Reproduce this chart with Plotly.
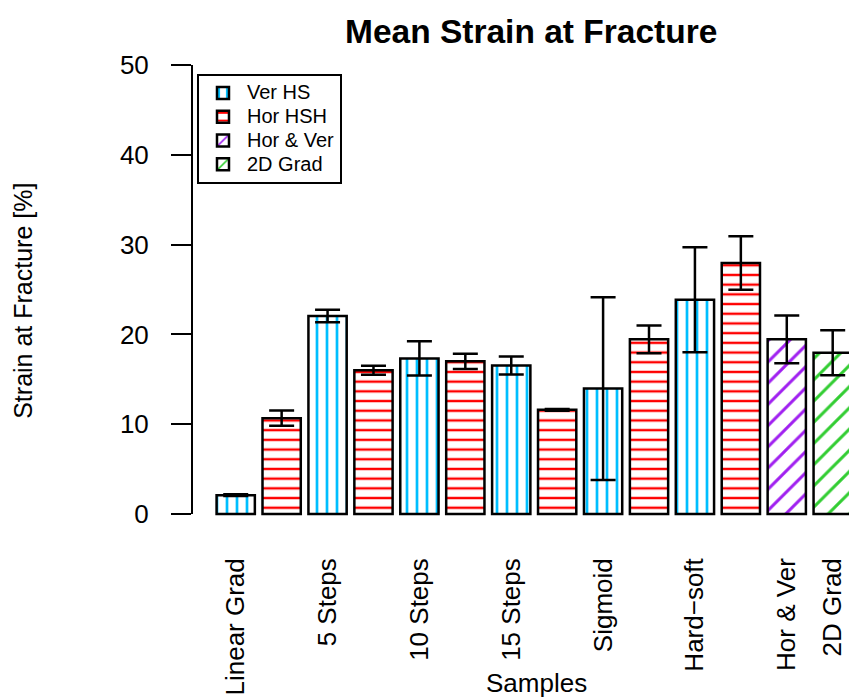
import plotly.graph_objects as go

# Paired samples: each has a vertical (Ver HS) and a horizontal (Hor HSH) bar
samples = ["Linear Grad", "5 Steps", "10 Steps", "15 Steps", "Sigmoid", "Hard\u2212soft"]
ver_mean = [2.1, 22.05, 17.33, 16.55, 13.97, 23.86]
ver_sd = [0.1, 0.7, 1.9, 1.0, 10.17, 5.85]
hor_mean = [10.67, 16.0, 17.0, 11.6, 19.45, 27.95]
hor_sd = [0.85, 0.5, 0.86, 0.1, 1.54, 2.97]

# Single-bar samples
hv_name = "Hor & Ver"
hv_mean = [19.45]
hv_sd = [2.65]
g2d_name = "2D Grad"
g2d_mean = [17.95]
g2d_sd = [2.5]

legend_names = ["Ver HS", "Hor HSH", "Hor & Ver", "2D Grad"]
y_ticks = [0, 10, 20, 30, 40, 50]

FONT = "Liberation Sans, Arial, Helvetica, sans-serif"
BAR_W = 1 / 1.2

n_pairs = len(samples)
ver_x = [2 * i for i in range(n_pairs)]
hor_x = [2 * i + 1 for i in range(n_pairs)]
hv_x = [2 * n_pairs]
g2d_x = [2 * n_pairs + 1]

tick_pos = ver_x + hv_x + g2d_x
tick_txt = samples + [hv_name, g2d_name]


def legend_label(text):
    # larger glyphs while keeping the compact legend row spacing
    return '<span style="font-size:20px">' + text + "</span>"


def bar_trace(name, xs, ys, sds, shape, color, size, solidity):
    return go.Bar(
        name=legend_label(name),
        x=xs,
        y=ys,
        width=[BAR_W] * len(xs),
        marker=dict(
            color="white",
            line=dict(color="black", width=2.5),
            pattern=dict(shape=shape, fgcolor=color, bgcolor="white",
                         size=size, solidity=solidity, fillmode="replace"),
        ),
        error_y=dict(type="data", array=sds, symmetric=True,
                     color="black", thickness=2.5, width=12.5),
    )


fig = go.Figure()
fig.add_trace(bar_trace(legend_names[0], ver_x, ver_mean, ver_sd, "|", "#00BFFF", 10, 0.27))
fig.add_trace(bar_trace(legend_names[1], hor_x, hor_mean, hor_sd, "-", "#FF0000", 9.7, 0.25))
fig.add_trace(bar_trace(legend_names[2], hv_x, hv_mean, hv_sd, "/", "#A020F0", 15, 0.2))
fig.add_trace(bar_trace(legend_names[3], g2d_x, g2d_mean, g2d_sd, "/", "#32CD32", 15, 0.2))

# y axis line spanning only the labelled range
fig.add_shape(type="line", xref="paper", yref="y", x0=0, x1=0, y0=0, y1=50,
              line=dict(color="black", width=2))

fig.add_annotation(text="<b>Mean Strain at Fracture</b>", xref="paper", yref="paper",
                   x=0.516, y=1.031, xanchor="center", yanchor="middle",
                   showarrow=False, font=dict(size=33.5, color="black", family=FONT))
fig.add_annotation(text="Strain at Fracture [%]", xref="paper", yref="paper",
                   x=-0.257, y=0.477, xanchor="center", yanchor="middle", textangle=-90,
                   showarrow=False, font=dict(size=25, color="black", family=FONT))
fig.add_annotation(text="Samples", xref="paper", yref="paper",
                   x=0.5236, y=-0.3463, xanchor="center", yanchor="bottom",
                   showarrow=False, font=dict(size=26, color="black", family=FONT))

fig.update_layout(
    width=849,
    height=700,
    margin=dict(l=192, r=0, t=47, b=168),
    paper_bgcolor="white",
    plot_bgcolor="white",
    barmode="overlay",
    font=dict(family=FONT, color="black"),
    showlegend=True,
    legend=dict(
        x=0.0076, y=0.9443, xanchor="left", yanchor="top",
        bordercolor="black", borderwidth=2, bgcolor="white",
        font=dict(size=16, family=FONT, color="black"),
        itemwidth=38,
    ),
    xaxis=dict(
        range=[-0.952, 13.355],
        tickmode="array", tickvals=tick_pos, ticktext=tick_txt,
        tickangle=-90, ticks="", showline=False, showgrid=False, zeroline=False,
        tickfont=dict(size=26, family=FONT, color="black"),
        ticklabelstandoff=20,
    ),
    yaxis=dict(
        range=[-2, 52],
        tickmode="array", tickvals=y_ticks,
        ticks="outside", ticklen=20, tickwidth=2, tickcolor="black",
        showline=False, showgrid=False, zeroline=False,
        tickfont=dict(size=26, family=FONT, color="black"),
        ticklabelstandoff=17,
    ),
)

fig.write_html("out.html")
